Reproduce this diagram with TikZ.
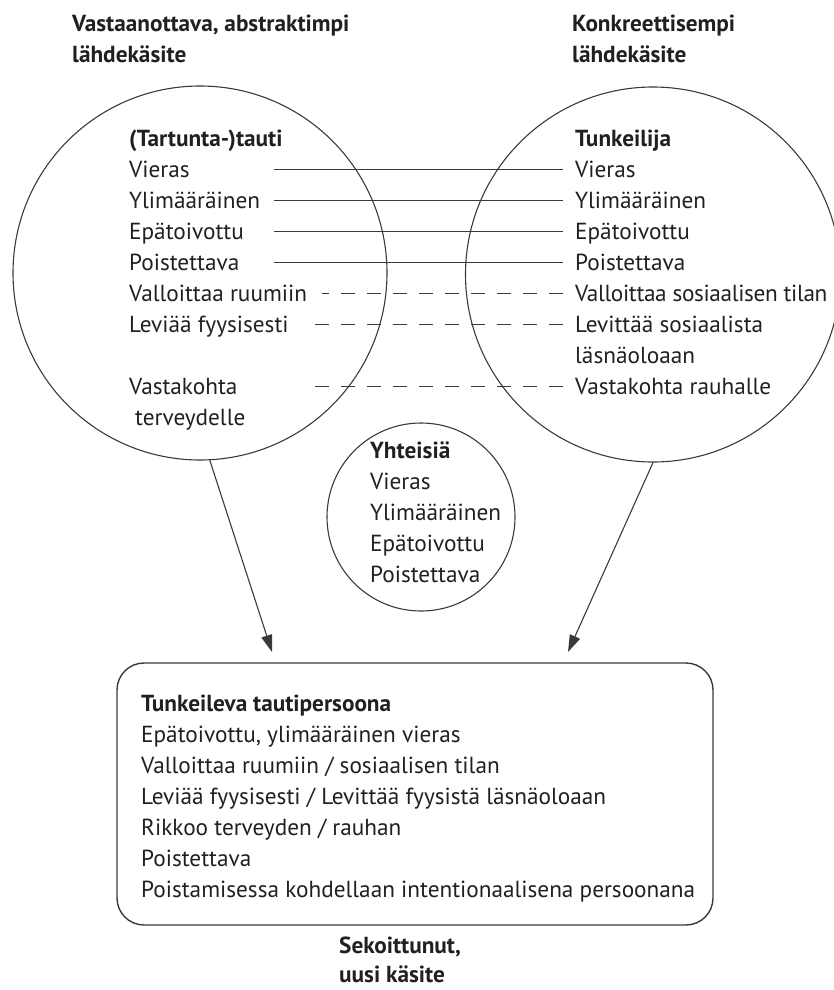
\documentclass[tikz,border=0pt]{standalone}
\usepackage{fontspec}
\setmainfont{PT Sans}
\usetikzlibrary{arrows.meta}
\definecolor{ink}{HTML}{231F20}
\definecolor{stroke}{HTML}{3A3A3A}
\newlength\calw
\begin{document}
\settowidth\calw{\fontsize{10pt}{12pt}\selectfont Poistamisessa kohdellaan intentionaalisena persoonana}%
\pgfmathsetmacro\fs{10*554/\calw}%
\begin{tikzpicture}[x=1pt,y=-1pt]
\tikzset{
  txt/.style={inner sep=0pt, anchor=base west, text height=15pt, text depth=0pt,
    font=\fontsize{\fs pt}{31pt}\selectfont, text=ink},
  hd/.style={txt, font=\fontsize{\fs pt}{31pt}\selectfont\bfseries},
  ring/.style={circle, draw=stroke, line width=1.1pt, inner sep=0pt},
  ln/.style={draw=stroke, line width=1.1pt},
  dl/.style={draw=stroke, line width=1.1pt, dash pattern=on 14pt off 12pt},
  arr/.style={draw=stroke, line width=1.1pt, -{Triangle[length=17pt,width=11pt]}}
}
\useasboundingbox (0,0) rectangle (834,990);

% circles
\node[ring, minimum size=374pt] (L) at (200,273) {};
\node[ring, minimum size=375pt] (R) at (653,274.5) {};
\node[ring, minimum size=188pt] (M) at (421,517) {};
\node[draw=stroke, line width=1.4pt, rounded corners=27pt, minimum width=596pt,
      minimum height=262pt, inner sep=0pt] (B) at (415,794) {};

% headings
\node[hd] (hL1) at (72,32) {Vastaanottava, abstraktimpi};
\node[hd] (hL2) at (72,63) {lähdekäsite};
\node[hd] (hR1) at (572,32) {Konkreettisempi};
\node[hd] (hR2) at (572,63) {lähdekäsite};

% left circle text
\node[hd]  (lt) at (129,146) {(Tartunta-)tauti};
\node[txt] (l1) at (129,177) {Vieras};
\node[txt] (l2) at (129,208) {Ylimääräinen};
\node[txt] (l3) at (129,239) {Epätoivottu};
\node[txt] (l4) at (129,270) {Poistettava};
\node[txt] (l5) at (129,301) {Valloittaa ruumiin};
\node[txt] (l6) at (129,332) {Leviää fyysisesti};
\node[txt] (l7) at (129,394) {Vastakohta};
\node[txt] (l8) at (135,425) {terveydelle};

% right circle text
\node[hd]  (rt) at (575,146) {Tunkeilija};
\node[txt] (r1) at (575,177) {Vieras};
\node[txt] (r2) at (575,208) {Ylimääräinen};
\node[txt] (r3) at (575,239) {Epätoivottu};
\node[txt] (r4) at (575,270) {Poistettava};
\node[txt] (r5) at (575,301) {\addfontfeature{LetterSpace=-1.5}Valloittaa sosiaalisen tilan};
\node[txt] (r6) at (575,332) {Levittää sosiaalista};
\node[txt] (r6b) at (575,363) {läsnäoloaan};
\node[txt] (r7) at (575,394) {Vastakohta rauhalle};

% middle circle text
\node[hd]  (m0) at (370,458) {Yhteisiä};
\node[txt] (m1) at (370,489) {Vieras};
\node[txt] (m2) at (370,520) {Ylimääräinen};
\node[txt] (m3) at (370,551) {Epätoivottu};
\node[txt] (m4) at (370,582) {Poistettava};

% box text
\node[hd]  (b0) at (141,711) {Tunkeileva tautipersoona};
\node[txt] (b1) at (141,742) {Epätoivottu, ylimääräinen vieras};
\node[txt] (b2) at (141,773) {Valloittaa ruumiin / sosiaalisen tilan};
\node[txt] (b3) at (141,804) {Leviää fyysisesti / Levittää fyysistä läsnäoloaan};
\node[txt] (b4) at (141,835) {Rikkoo terveyden / rauhan};
\node[txt] (b5) at (141,866) {Poistettava};
\node[txt] (b6) at (141,897) {Poistamisessa kohdellaan intentionaalisena persoonana};

% bottom caption
\node[hd] (c1) at (339,953) {Sekoittunut,};
\node[hd] (c2) at (339,982) {uusi käsite};

% connectors
\coordinate (cA) at (274,0);
\coordinate (cB) at (303,0);
\draw[ln] (cA |- l1.west) -- ([xshift=-12pt]r1.west);
\draw[ln] (cA |- l2.west) -- ([xshift=-12pt]r2.west);
\draw[ln] (cA |- l3.west) -- ([xshift=-12pt]r3.west);
\draw[ln] (cA |- l4.west) -- ([xshift=-12pt]r4.west);
\draw[dl] ([xshift=-12pt]r5.west) -- ([xshift=15pt]l5.east);
\draw[dl] ([xshift=-12pt]r6.west) -- ([xshift=16pt]l6.east);
\draw[dl] ([xshift=-12pt]r7.west) -- (cB |- l7.west);

\coordinate (tipL) at (272,652);
\coordinate (tipR) at (568,652);
\draw[arr] (L.-87.6) -- (tipL);
\draw[arr] (R.-90) -- (tipR);
\end{tikzpicture}
\end{document}
